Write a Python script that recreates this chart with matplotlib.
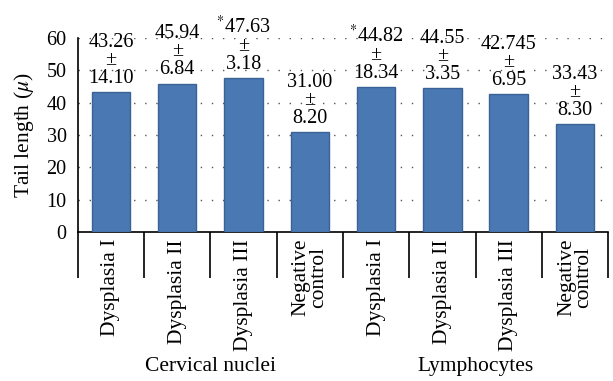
import numpy as np
import matplotlib.pyplot as plt

categories = ['Dysplasia I', 'Dysplasia II', 'Dysplasia III', 'Negative\ncontrol',
              'Dysplasia I', 'Dysplasia II', 'Dysplasia III', 'Negative\ncontrol']
means = [43.26, 45.94, 47.63, 31.00, 44.82, 44.55, 42.745, 33.43]
mean_text = ['43.26', '45.94', '47.63', '31.00', '44.82', '44.55', '42.745', '33.43']
sd_text = ['14.10', '6.84', '3.18', '8.20', '18.34', '3.35', '6.95', '8.30']
starred = [False, False, True, False, True, False, False, False]
groups = ['Cervical nuclei', 'Lymphocytes']
yticks = [0, 10, 20, 30, 40, 50, 60]

FS = 14.5


def main():
    plt.rcParams['font.family'] = 'Liberation Serif'
    plt.rcParams['mathtext.fontset'] = 'stix'

    fig = plt.figure(figsize=(6.13, 3.81), dpi=100)
    ax = fig.add_axes([0.127, 0.391, 0.865, 0.509])

    x = np.arange(len(means))
    ax.bar(x, means, width=0.58, color='#4a78b2', edgecolor='#3b6296',
           linewidth=1.0, zorder=3)

    for xi, m, mt, sd, st in zip(x, means, mean_text, sd_text, starred):
        top = ('$^{*}$' if st else '') + mt
        ax.annotate(top + '\n±\n' + sd, (xi, m), xytext=(0, 3),
                    textcoords='offset points', ha='center', va='bottom',
                    fontsize=FS, linespacing=0.93, zorder=4)

    ax.set_xlim(-0.5, len(means) - 0.5)
    ax.set_ylim(0, 60)
    ax.set_yticks(yticks)
    ax.tick_params(axis='y', length=0, pad=8, labelsize=FS)
    ax.set_ylabel('Tail length ($\\mathit{\\mu}$)', fontsize=FS + 1, labelpad=8)
    ax.yaxis.grid(True, linestyle=(0, (1, 7)), color='#555555', linewidth=1.0)
    ax.set_axisbelow(True)

    for s in ['top', 'right']:
        ax.spines[s].set_visible(False)
    ax.spines['left'].set_linewidth(1.2)
    ax.spines['bottom'].set_linewidth(1.2)

    # category labels, rotated
    ax.set_xticks(x)
    ax.set_xticklabels(categories, rotation=90, fontsize=FS + 1, linespacing=0.85,
                       va='top', ha='center')
    ax.tick_params(axis='x', length=0, pad=5)
    # separators between categories
    ax.set_xticks(np.arange(-0.5, len(means), 1.0), minor=True)
    ax.tick_params(axis='x', which='minor', length=33, width=1.2, direction='out')

    ax.text(1.5, -0.695, groups[0], transform=ax.get_xaxis_transform(),
            ha='center', va='center', fontsize=FS + 1)
    ax.text(5.5, -0.695, groups[1], transform=ax.get_xaxis_transform(),
            ha='center', va='center', fontsize=FS + 1)

    plt.savefig('out.png', dpi=100)


if __name__ == '__main__':
    main()
